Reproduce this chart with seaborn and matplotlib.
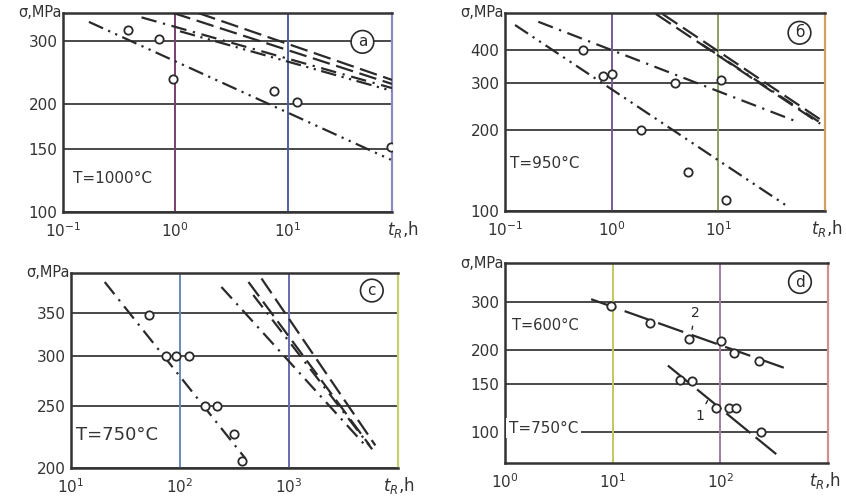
import numpy as np
import pandas as pd
import matplotlib.pyplot as plt
import seaborn as sns

# === Setup ===
sns.set_style("white")
plt.rcParams["font.family"] = ["DejaVu Sans"]
plt.rcParams["mathtext.fontset"] = "dejavusans"
INK = "#2a2a2a"

# === Data ===
# (a) T = 1000 C
a_pts_t = [0.38, 0.72, 0.95, 7.6, 12, 84]
a_pts_s = [322, 305, 235, 218, 203, 152]
a_t0 = [0.17, 0.5, 0.96, 1.6, 1.1]
a_t1 = [83, 85, 85, 85, 85]
a_s0 = [340, 350, 360, 360, 320]
a_s1 = [140, 222, 228, 234, 218]

# (b) T = 950 C
b_pts_t = [0.54, 0.83, 1.01, 3.9, 1.9, 5.2, 10.5, 11.7]
b_pts_s = [400, 320, 324, 300, 200, 140, 310, 110]
b_t0 = [0.124, 0.205, 2.6, 3.0, 7.0]
b_t1 = [43, 51, 90, 90, 90]
b_s0 = [496, 510, 545, 545, 420]
b_s1 = [105, 218, 212, 220, 214]

# (c) T = 750 C
c_pts_t = [52, 74, 91, 122, 171, 219, 315, 370]
c_pts_s = [348, 300, 300, 300, 250, 250, 226, 205]
c_t0 = [20.4, 240, 425, 560, 470]
c_t1 = [398, 4900, 5500, 6200, 5800]
c_s0 = [392, 385, 392, 397, 374]
c_s1 = [207, 218, 217, 217, 214]

# (d) curve 2: T = 600 C, curve 1: T = 750 C
d2_t = [9.7, 22.4, 51, 101, 135, 230]
d2_s = [289, 250, 219, 216, 194, 182]
d1_t = [42, 55, 91, 121, 139, 238]
d1_s = [155, 154, 122, 122, 122, 100]
d_t0 = [6.3, 32.5]
d_t1 = [437, 330]
d_s0 = [306, 175]
d_s1 = [169, 83]

# line styles
DASH = (0, (8, 3))
DASHDOT = (0, (7, 3, 1, 3))
DASHDOTDOT = (0, (7, 2.5, 1, 2.5, 1, 2.5))


def setup(ax, xlim, ylim, xticks, xlabels, yticks, vcolors, rcolor, tx):
    ax.set_xscale("log")
    ax.set_yscale("log")
    ax.set_xlim(xlim)
    ax.set_ylim(ylim)
    ax.set_xticks(xticks)
    ax.set_xticklabels(xlabels)
    ax.set_yticks(yticks)
    ax.set_yticklabels([str(v) for v in yticks])
    ax.minorticks_off()
    ax.tick_params(length=0, labelsize=11, labelcolor="#333333")
    ax.tick_params(axis="x", pad=7)
    ax.tick_params(axis="y", pad=4)
    ax.grid(axis="y", color="#3a3a3a", lw=1.3)
    for xv, col in zip(xticks[1:], vcolors):
        ax.axvline(xv, color=col, lw=1.4, zorder=1)
    for side in ["left", "bottom", "top"]:
        ax.spines[side].set_color("#333333")
        ax.spines[side].set_linewidth(1.8)
    ax.spines["right"].set_color(rcolor)
    ax.spines["right"].set_linewidth(1.6)
    ax.text(-0.005, 1.0, "σ,MPa", transform=ax.transAxes, ha="right",
            va="center", fontsize=10.5, color="#333333")
    ax.text(tx, -0.035, r"$t_R$,h", transform=ax.transAxes, ha="right",
            va="top", fontsize=12, color="#333333")


def draw_lines(ax, t0, t1, s0, s1, styles):
    for x0, x1, y0, y1, ls in zip(t0, t1, s0, s1, styles):
        ax.plot([x0, x1], [y0, y1], color=INK, lw=1.6, linestyle=ls, zorder=3)


def draw_points(ax, t, s):
    sns.scatterplot(x=t, y=s, ax=ax, marker="o", s=36, facecolor="white",
                    edgecolor=INK, linewidth=1.3, zorder=5)


def circled(ax, x, y, letter):
    ax.text(x, y, letter, transform=ax.transAxes, ha="center", va="center",
            fontsize=11, color=INK, zorder=6,
            bbox=dict(boxstyle="circle,pad=0.25", fc="white", ec=INK, lw=1.2))


fig = plt.figure(figsize=(8.46, 4.96), dpi=100)
ax_a = fig.add_axes([0.0745, 0.5726, 0.3889, 0.4012])
ax_b = fig.add_axes([0.597, 0.5746, 0.3783, 0.3992])
ax_c = fig.add_axes([0.0839, 0.0565, 0.3865, 0.3931])
ax_d = fig.add_axes([0.597, 0.0665, 0.3818, 0.4032])

# === (a) ===
setup(ax_a, (0.1, 85), (100, 360), [0.1, 1, 10],
      [r"$10^{-1}$", r"$10^{0}$", r"$10^{1}$"], [100, 150, 200, 300],
      ["#7a3f6e", "#4f5f9f"], "#8a8ac0", 1.08)
draw_lines(ax_a, a_t0, a_t1, a_s0, a_s1,
           [DASHDOTDOT, DASHDOT, DASH, DASH, DASHDOTDOT])
draw_points(ax_a, a_pts_t, a_pts_s)
circled(ax_a, 0.91, 0.855, "a")
ax_a.text(0.03, 0.17, "T=1000°C", transform=ax_a.transAxes, fontsize=11,
          color="#333333", va="center")

# === (b) ===
setup(ax_b, (0.1, 100), (100, 550), [0.1, 1, 10],
      [r"$10^{-1}$", r"$10^{0}$", r"$10^{1}$"], [100, 200, 300, 400],
      ["#7a5a9a", "#8aa060"], "#d0a060", 1.055)
draw_lines(ax_b, b_t0, b_t1, b_s0, b_s1,
           [DASHDOTDOT, DASHDOT, DASH, DASH, DASHDOT])
draw_points(ax_b, b_pts_t, b_pts_s)
circled(ax_b, 0.92, 0.90, "б")
ax_b.text(0.015, 0.24, "T=950°C", transform=ax_b.transAxes, fontsize=11,
          color="#333333", va="center")

# === (c) ===
setup(ax_c, (10, 10000), (200, 405), [10, 100, 1000],
      [r"$10^{1}$", r"$10^{2}$", r"$10^{3}$"], [200, 250, 300, 350],
      ["#6a8ab8", "#6a6ab0"], "#c8d070", 1.05)
draw_lines(ax_c, c_t0, c_t1, c_s0, c_s1,
           [DASHDOT, DASHDOT, DASH, DASH, DASHDOT])
draw_points(ax_c, c_pts_t, c_pts_s)
circled(ax_c, 0.92, 0.91, "c")
ax_c.text(0.015, 0.17, "T=750°C", transform=ax_c.transAxes, fontsize=13,
          color="#333333", va="center")

# === (d) ===
setup(ax_d, (1, 1000), (77, 415), [1, 10, 100],
      [r"$10^{0}$", r"$10^{1}$", r"$10^{2}$"], [100, 150, 200, 300],
      ["#c0c860", "#a87aa0"], "#d09090", 1.04)
draw_lines(ax_d, d_t0, d_t1, d_s0, d_s1, [(0, (12, 4)), (0, (14, 3))])
draw_points(ax_d, d2_t, d2_s)
draw_points(ax_d, d1_t, d1_s)
circled(ax_d, 0.913, 0.905, "d")
ax_d.text(0.02, 0.69, "T=600°C", transform=ax_d.transAxes, fontsize=10.5,
          color="#333333", va="center",
          bbox=dict(fc="white", ec="none", pad=1))
ax_d.text(0.012, 0.175, "T=750°C", transform=ax_d.transAxes, fontsize=11,
          color="#333333", va="center", zorder=6,
          bbox=dict(fc="white", ec="none", pad=2))
ax_d.annotate("2", xy=(54, 232), xytext=(58, 272), fontsize=10, color=INK,
              ha="center", va="center",
              arrowprops=dict(arrowstyle="-", color=INK, lw=1))
ax_d.annotate("1", xy=(78, 133), xytext=(64, 114), fontsize=10, color=INK,
              ha="center", va="center",
              arrowprops=dict(arrowstyle="-", color=INK, lw=1))

fig.savefig("out.png", dpi=100)
